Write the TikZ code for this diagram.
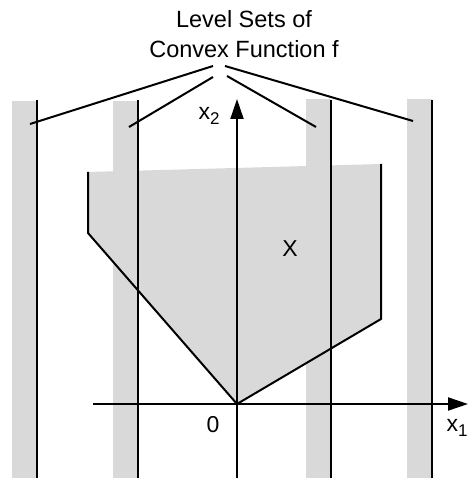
\documentclass[tikz,border=0pt]{standalone}
\usepackage{fontspec}
\setmainfont{Liberation Sans}
\usetikzlibrary{arrows.meta}
\definecolor{band}{RGB}{217,217,217}
\newcommand{\lowidx}[1]{\raisebox{-5pt}{\fontsize{17}{17}\selectfont #1}}
\tikzset{
  axis/.style={line width=2pt, -{Triangle[length=20pt,width=13pt]}},
  level/.style={line width=2pt},
  lead/.style={line width=2pt},
  lab/.style={font=\fontsize{23}{26}\selectfont, inner sep=0pt, anchor=base},
  title/.style={font=\fontsize{23.5}{30}\selectfont, align=center, inner sep=0pt},
}

\begin{document}
\begin{tikzpicture}[x=1pt,y=-1pt]
  \useasboundingbox (0,0) rectangle (468,478);

  % grey strips beside the level lines
  \foreach \lx/\ty in {37/101,138/101,331/99,432/99}
    \fill[band] (\lx-25,\ty) rectangle (\lx,478);

  % the set X
  \fill[band] (88,172) -- (381,164) -- (381,319) -- (237,404) -- (88,233) -- cycle;
  \draw[level] (88,172) -- (88,233) -- (237,404) -- (381,319) -- (381,164);

  % level lines
  \foreach \lx in {37,138,331,432}
    \draw[level] (\lx,100) -- (\lx,478);

  % axes
  \coordinate (o) at (237,404);
  \coordinate (xs) at (93,404);
  \coordinate (xe) at (468,404);
  \coordinate (ys) at (237,478);
  \coordinate (ye) at (237,99);
  \draw[axis] (xs) -- (xe);
  \draw[axis] (ys) -- (ye);

  \node[lab] (x1) at (457,431) {x\lowidx{1}};
  \node[lab] (x2) at (209,120) {x\lowidx{2}};
  \node[lab] (zero) at (213,432) {0};
  \node[lab] (setx) at (290,256) {X};

  % label and leaders
  \node[title] (lvl) at (244,34.5) {Level Sets of\\Convex Function f};
  \coordinate (l1) at (213,66);
  \coordinate (l2) at (213,77);
  \coordinate (l3) at (227,76);
  \coordinate (l4) at (225,66);
  \coordinate (e1) at (30,124);
  \coordinate (e2) at (129,127);
  \coordinate (e3) at (316,127);
  \coordinate (e4) at (413,121);
  \draw[lead] (l1) -- (e1);
  \draw[lead] (l2) -- (e2);
  \draw[lead] (l3) -- (e3);
  \draw[lead] (l4) -- (e4);
\end{tikzpicture}
\end{document}
